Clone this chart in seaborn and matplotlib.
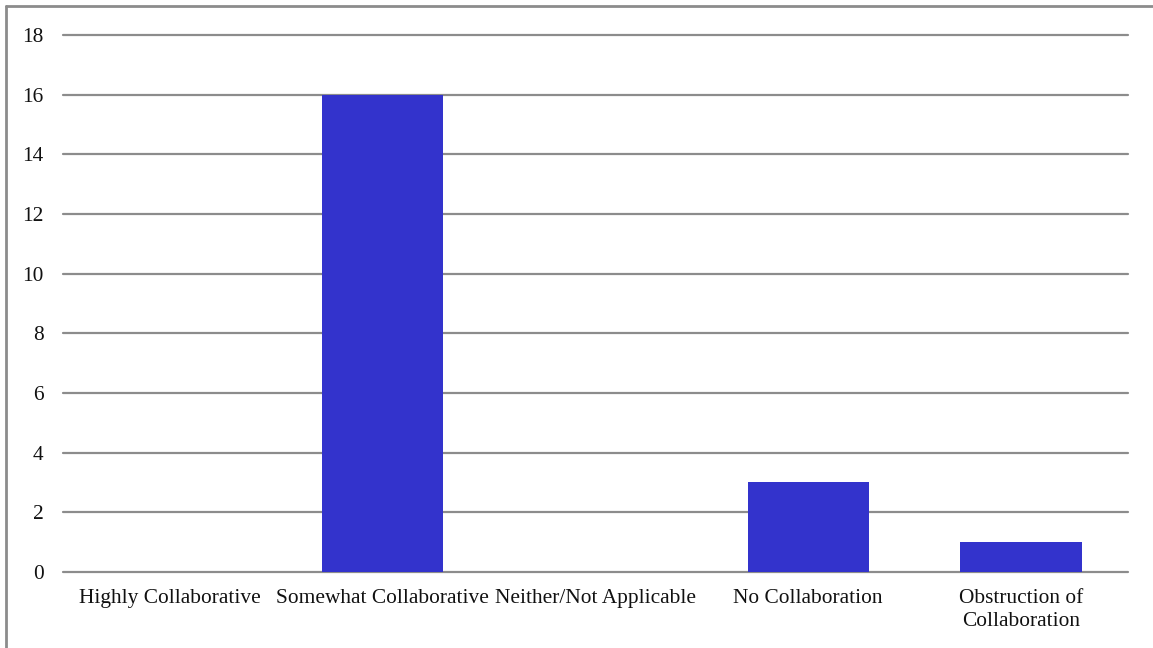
import matplotlib
matplotlib.use("Agg")
import matplotlib.pyplot as plt
import seaborn as sns
from matplotlib.lines import Line2D

categories = ["Highly Collaborative", "Somewhat Collaborative", "Neither/Not Applicable",
              "No Collaboration", "Obstruction of\nCollaboration"]
counts = [0, 16, 0, 3, 1]
y_ticks = [0, 2, 4, 6, 8, 10, 12, 14, 16, 18]

sns.set_style("white")
plt.rcParams["font.family"] = ["Liberation Serif", "DejaVu Serif"]

fig = plt.figure(figsize=(11.53, 6.48), dpi=100)
ax = fig.add_axes([0.0546, 0.1173, 0.9234, 0.8287])

sns.barplot(x=categories, y=counts, color="#3333CC", saturation=1, width=0.57,
            edgecolor="none", linewidth=0, ax=ax)

ax.set_ylim(0, 18)
ax.set_yticks(y_ticks)
ax.set_xlim(-0.5, len(categories) - 0.5)
ax.yaxis.grid(True, color="#8c8c8c", linewidth=1.6)
for gl in ax.get_ygridlines():
    gl.set_clip_on(False)
ax.set_axisbelow(True)
for s in ax.spines.values():
    s.set_visible(False)
ax.tick_params(axis="both", length=0, labelsize=15.4, colors="#111111")
ax.tick_params(axis="y", pad=14)
ax.tick_params(axis="x", pad=12)
for lbl in ax.get_xticklabels():
    lbl.set_linespacing(1.3)

# frame: top and left edges only
fig.add_artist(Line2D([6 / 1153, 6 / 1153], [0, 1 - 6 / 648], transform=fig.transFigure,
                      color="#8c8c8c", linewidth=2))
fig.add_artist(Line2D([6 / 1153, 1], [1 - 6 / 648, 1 - 6 / 648], transform=fig.transFigure,
                      color="#8c8c8c", linewidth=2))

fig.savefig("out.png", dpi=100)
